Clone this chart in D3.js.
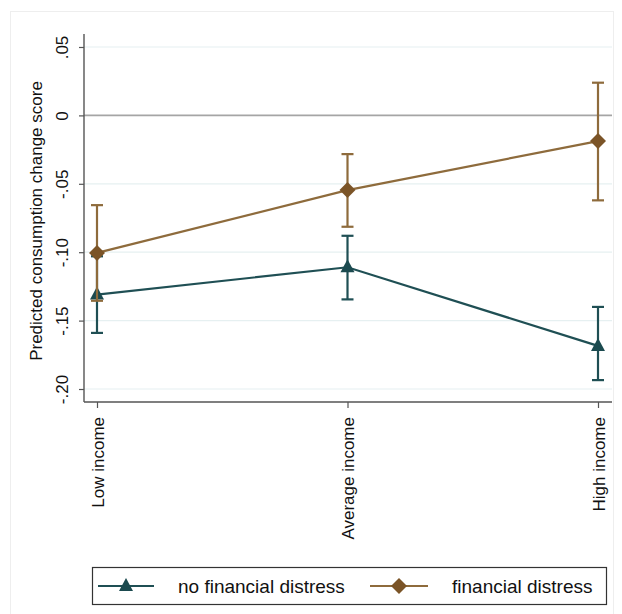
<!DOCTYPE html>
<html>
<head>
<meta charset="utf-8">
<script src="https://cdn.jsdelivr.net/npm/d3@7"></script>
<style>
  body { margin: 0; background: #fff; }
  text { font-family: "Liberation Sans", Arial, sans-serif; fill: #111; }
</style>
</head>
<body>
<svg id="chart"></svg>
<script>
var width = 622;
var height = 614;

// data
var categories = ["Low income", "Average income", "High income"];
var seriesNames = ["no financial distress", "financial distress"];
var noDistressMean = [-0.131, -0.111, -0.1685];
var noDistressLow  = [-0.159, -0.1345, -0.1935];
var noDistressHigh = [-0.103, -0.088, -0.140];
var distressMean = [-0.1005, -0.0546, -0.0188];
var distressLow  = [-0.1355, -0.0814, -0.0621];
var distressHigh = [-0.0656, -0.0283, 0.0239];
var yTicks = [0.05, 0, -0.05, -0.10, -0.15, -0.20];
var yTickLabels = [".05", "0", "-.05", "-.10", "-.15", "-.20"];

var tealLine = "#1f4f54", tealFill = "#1b4a4f";
var brownLine = "#8e6b3c", brownFill = "#7b5427";

var plot = { left: 84, right: 612, top: 34, bottom: 402 };

var svg = d3.select("#chart")
  .attr("width", width)
  .attr("height", height);

// faint outer frame
svg.append("rect")
  .attr("x", 10.5).attr("y", 11.5)
  .attr("width", 603).attr("height", 610)
  .attr("fill", "none")
  .attr("stroke", "#eeeeee");

var x = d3.scalePoint()
  .domain(categories)
  .range([97, 598]);

var y = d3.scaleLinear()
  .domain([-0.2095, 0.0595])
  .range([plot.bottom, plot.top]);

var g = svg.append("g");

// gridlines
g.selectAll(".grid")
  .data(yTicks.filter(function(d){ return d != 0; }))
  .enter().append("line")
  .attr("x1", plot.left).attr("x2", plot.right)
  .attr("y1", function(d){ return y(d); })
  .attr("y2", function(d){ return y(d); })
  .attr("stroke", "#e6f0f1")
  .attr("stroke-width", 1.2);

// zero line
g.append("line")
  .attr("x1", plot.left).attr("x2", plot.right)
  .attr("y1", y(0)).attr("y2", y(0))
  .attr("stroke", "#a5a5a5")
  .attr("stroke-width", 1.6);

// y axis
var yAxis = d3.axisLeft(y)
  .tickValues(yTicks)
  .tickSize(5)
  .tickFormat(function(d, i){ return yTickLabels[i]; });

var ya = g.append("g")
  .attr("transform", "translate(" + plot.left + ",0)")
  .call(yAxis);
ya.select(".domain").remove();
ya.append("line")
  .attr("x1", 0).attr("x2", 0)
  .attr("y1", plot.top).attr("y2", plot.bottom)
  .attr("stroke", "#555").attr("stroke-width", 1.4);
ya.selectAll(".tick line").attr("stroke", "#555").attr("stroke-width", 1.2);
ya.selectAll(".tick text")
  .attr("font-size", 17)
  .attr("font-family", "Liberation Sans, Arial, sans-serif")
  .attr("fill", "#111")
  .attr("text-anchor", "middle")
  .attr("x", 0).attr("dy", 0)
  .attr("transform", "translate(-16,0) rotate(-90)");

// x axis
var xAxis = d3.axisBottom(x).tickSize(6);
var xa = g.append("g")
  .attr("transform", "translate(0," + plot.bottom + ")")
  .call(xAxis);
xa.select(".domain").remove();
xa.append("line")
  .attr("x1", plot.left).attr("x2", plot.right)
  .attr("y1", 0).attr("y2", 0)
  .attr("stroke", "#555").attr("stroke-width", 1.4);
xa.selectAll(".tick line").attr("stroke", "#555").attr("stroke-width", 1.2);
xa.selectAll(".tick text")
  .attr("font-size", 17)
  .attr("font-family", "Liberation Sans, Arial, sans-serif")
  .attr("fill", "#111")
  .attr("text-anchor", "end")
  .attr("x", 0).attr("y", 0)
  .attr("dy", "0.36em")
  .attr("transform", "translate(0,15) rotate(-90)");

// y title
svg.append("text")
  .attr("transform", "translate(42," + 221 + ") rotate(-90)")
  .attr("text-anchor", "middle")
  .attr("font-size", 17)
  .text("Predicted consumption change score");

function series(mean, lo, hi, lineCol, fillCol, shape) {
  var pts = categories.map(function(c, i){
    return { cat: c, m: mean[i], lo: lo[i], hi: hi[i] };
  });
  var s = g.append("g");
  var line = d3.line()
    .x(function(d){ return x(d.cat); })
    .y(function(d){ return y(d.m); });
  s.append("path")
    .datum(pts)
    .attr("d", line)
    .attr("fill", "none")
    .attr("stroke", lineCol)
    .attr("stroke-width", 2.2);
  // error bars
  var eb = s.selectAll(".eb").data(pts).enter().append("g");
  eb.append("line")
    .attr("x1", function(d){ return x(d.cat); })
    .attr("x2", function(d){ return x(d.cat); })
    .attr("y1", function(d){ return y(d.lo); })
    .attr("y2", function(d){ return y(d.hi); })
    .attr("stroke", lineCol).attr("stroke-width", 2.2);
  [ "lo", "hi" ].forEach(function(k){
    eb.append("line")
      .attr("x1", function(d){ return x(d.cat) - 6; })
      .attr("x2", function(d){ return x(d.cat) + 6; })
      .attr("y1", function(d){ return y(d[k]); })
      .attr("y2", function(d){ return y(d[k]); })
      .attr("stroke", lineCol).attr("stroke-width", 2.2);
  });
  s.selectAll(".mk").data(pts).enter().append("path")
    .attr("d", shape)
    .attr("transform", function(d){ return "translate(" + x(d.cat) + "," + y(d.m) + ")"; })
    .attr("fill", fillCol);
}

var triangle = "M0,-8 L7,5 L-7,5 Z";
var diamond = "M0,-8 L8,0 L0,8 L-8,0 Z";

series(noDistressMean, noDistressLow, noDistressHigh, tealLine, tealFill, triangle);
series(distressMean, distressLow, distressHigh, brownLine, brownFill, diamond);

// legend
var leg = svg.append("g");
leg.append("rect")
  .attr("x", 92.5).attr("y", 567.5)
  .attr("width", 514).attr("height", 37)
  .attr("fill", "#fff")
  .attr("stroke", "#333").attr("stroke-width", 1.2);

var legItems = [
  { name: seriesNames[0], x0: 98, x1: 154, tx: 178, line: tealLine, fill: tealFill, shape: triangle },
  { name: seriesNames[1], x0: 370, x1: 428, tx: 452, line: brownLine, fill: brownFill, shape: diamond }
];
legItems.forEach(function(d){
  leg.append("line")
    .attr("x1", d.x0).attr("x2", d.x1)
    .attr("y1", 586).attr("y2", 586)
    .attr("stroke", d.line).attr("stroke-width", 2);
  leg.append("path")
    .attr("d", d.shape)
    .attr("transform", "translate(" + ((d.x0 + d.x1) / 2) + ",586)")
    .attr("fill", d.fill);
  leg.append("text")
    .attr("x", d.tx).attr("y", 586)
    .attr("dy", "0.35em")
    .attr("font-size", 19)
    .text(d.name);
});
</script>
</body>
</html>
